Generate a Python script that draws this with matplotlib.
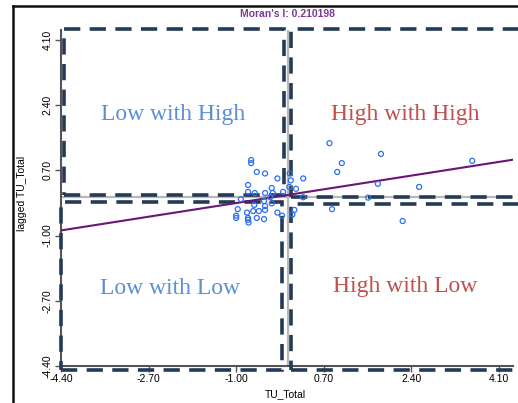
import numpy as np
import matplotlib.pyplot as plt
from matplotlib.patches import Rectangle
from matplotlib.lines import Line2D

# standardized TU_Total vs its spatial lag
tu_total = [-0.71, -0.71, -0.60, -0.44, -0.20, 0.04, 0.06, 0.30, -0.77, -0.31,
            -0.77, -0.64, -0.44, -0.29, -0.09, 0.03, 0.16, -0.91, -0.34, -0.46,
            -0.31, -0.65, -0.44, -0.97, -0.79, -0.67, -0.56, -0.44, -0.20, 0.13,
            -1.00, -1.00, -0.77, -0.77, -0.76, -0.60, -0.46, -0.11, 0.09, 0.81,
            1.81, 1.05, 0.96, 1.75, 2.55, 3.58, 1.56, 0.30, 0.86, 2.23]
lagged_tu = [0.97, 0.89, 0.66, 0.62, 0.49, 0.62, 0.44, 0.49, 0.32, 0.24,
             0.14, 0.11, 0.11, 0.11, 0.14, 0.27, 0.22, -0.05, 0.00, -0.10,
             -0.16, -0.20, -0.23, -0.31, -0.40, -0.36, -0.36, -0.33, -0.40, -0.33,
             -0.48, -0.54, -0.54, -0.59, -0.66, -0.54, -0.57, -0.48, -0.45, 1.41,
             1.13, 0.89, 0.66, 0.35, 0.27, 0.95, -0.01, 0.00, -0.31, -0.62]
morans_i = 0.210198
intercept = 0.06
ticks = [-4.40, -2.70, -1.00, 0.70, 2.40, 4.10]
quadrants = ["Low with High", "High with High", "Low with Low", "High with Low"]

fig = plt.figure(figsize=(5.18, 4.03), dpi=100)
ax = fig.add_axes([61/518, 37/403, 452/518, 336/403])
xmin, xmax = -4.4, 4.372
ymin, ymax = -4.4, 4.361
ax.set_xlim(xmin, xmax)
ax.set_ylim(ymin, ymax)

# mean lines
ax.axvline(0, color='#b8b8b8', lw=1.6, zorder=1)
ax.axhline(0, color='#b8b8b8', lw=1.6, zorder=1)

# quadrant boxes
navy = '#243a57'
boxes = [(-4.34, 0.059, -0.07, 4.387),
         (0.063, 0.006, 4.6, 4.387),
         (-4.4, -4.504, -0.11, -0.124),
         (0.063, -4.504, 4.6, -0.176)]
for x0, y0, x1, y1 in boxes:
    r = Rectangle((x0, y0), x1 - x0, y1 - y0, fill=False, ec=navy, lw=2.6,
                  ls=(0, (4.5, 2.6)), clip_on=False, zorder=3)
    ax.add_patch(r)

xs = np.array([xmin, xmax])
ax.plot(xs, morans_i * xs + intercept, color='#6a1577', lw=1.5, zorder=4)
ax.scatter(tu_total, lagged_tu, s=13, facecolors='none', edgecolors='#2e6ff0',
           linewidths=0.9, zorder=5)

pos = [(-2.23, 2.17), (2.28, 2.17), (-2.28, -2.39), (2.28, -2.34)]
cols = ['#5b8fd6', '#c0504d', '#5b8fd6', '#c0504d']
for (tx, ty), lab, c in zip(pos, quadrants, cols):
    ax.text(tx, ty, lab, ha='center', va='center', fontsize=17,
            family='Liberation Serif', color=c, zorder=6)

for s in ['top', 'right']:
    ax.spines[s].set_visible(False)
for s in ['left', 'bottom']:
    ax.spines[s].set_color('#555555')
    ax.spines[s].set_linewidth(1.5)
ax.set_xticks(ticks)
ax.set_yticks(ticks)
ax.set_xticklabels(['%.2f' % t for t in ticks], fontsize=7.5, family='Liberation Sans')
ax.set_yticklabels(['%.2f' % t for t in ticks], fontsize=7.5, family='Liberation Sans',
                   rotation=90, va='center')
ax.tick_params(length=4, width=1, color='#555555', pad=2)

fig.text(288/518, 1 - 14/403, "Moran's I: 0.210198", ha='center', va='center',
         fontsize=7.5, fontweight='bold', color='#7b3b96', family='Liberation Sans')
fig.text(285/518, 1 - 394/403, 'TU_Total', ha='center', va='center',
         fontsize=7.5, family='Liberation Sans')
fig.text(22/518, 1 - 193/403, 'lagged TU_Total', ha='center', va='center',
         fontsize=7.5, rotation=90, family='Liberation Sans')

# outer frame lines
fig.add_artist(Line2D([13/518, 1], [1 - 6/403, 1 - 6/403], color='#111111', lw=1.8))
fig.add_artist(Line2D([13/518, 13/518], [0, 1 - 6/403], color='#111111', lw=1.8))

fig.savefig('out.png', dpi=100)
